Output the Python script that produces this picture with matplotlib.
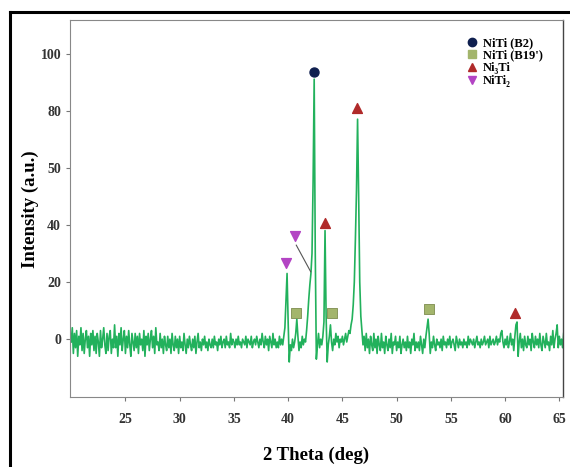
import numpy as np
import matplotlib
matplotlib.use("Agg")
import matplotlib.pyplot as plt
from matplotlib.lines import Line2D

# XRD pattern, sampled every 0.1 deg from 20.0 to 65.4 (one row per degree)
two_theta = np.round(np.arange(200, 655) / 10, 1)
intensity = [
    -1, 4, -5, 2, -3, 3, -6, 1, -2, 4,        # 20
    -4, 2, -5, 0, 3, -3, 1, -6, 2, -2,        # 21
    3, -4, 1, -5, 2, -1, -6, 3, -3, 0,        # 22
    4, -2, -5, 2, -4, 1, 3, -5, 0, -3,        # 23
    5, -3, 1, -6, 2, -2, 4, -4, 0, 3,         # 24
    -5, 1, -3, 3, -2, -6, 2, -1, -4, 2,       # 25
    -3, 1, -5, 2, -2, 0, -4, 3, -6, 1,        # 26
    -2, 2, -4, 0, 3, -3, 1, -5, 4, -2,        # 27
    -1, -4, 2, -3, 0, -5, 1, -2, -4, 1,       # 28
    -3, 0, -5, 2, -2, -4, 1, -3, 0, -5,       # 29
    1, -3, -1, -4, 2, -2, -5, 0, -3, 1,       # 30
    -2, -4, 0, -3, 1, -5, -1, 2, -3, -1,      # 31
    -4, 0, -2, 1, -3, -1, -4, 0, -2, -3,      # 32
    0, -3, 1, -2, -1, -4, 0, -2, 1, -3,       # 33
    -1, 0, -3, 1, -2, -1, -3, 2, -2, 0,       # 34
    -1, -3, 0, -2, 1, -2, -1, -3, 0, -1,      # 35
    -2, 1, -3, 0, -1, -2, 1, -3, -1, 0,       # 36
    -2, 1, -1, -3, 0, -2, 2, -1, -3, 1,       # 37
    -2, 0, -4, 1, -1, -3, 2, -2, 0, -3,       # 38
    -1, -3, 1, -2, 0, -2, 1, 4, 14, 23,       # 39
    6, -8, -2, -4, 0, -3, -1, 2, 7, 1,        # 40
    -4, -1, -3, 1, -2, 0, -1, 3, 8, 14,       # 41
    19, 23, 30, 55, 91, 30, -7, -2, 2, -3,    # 42
    0, -2, 1, 6, 38, 8, -8, -2, 1, 5,         # 43
    -1, -4, 0, -2, 2, -1, 1, -3, 0, -1,       # 44
    1, -2, 0, 2, -1, 1, 3, 2, 5, 7,           # 45
    12, 20, 35, 52, 77, 50, 20, 8, 3, -2,     # 46
    1, -4, 2, -3, 0, -5, 1, -2, -4, 2,        # 47
    -3, 0, -5, 1, -2, -4, 2, -3, -1, -5,      # 48
    1, -2, -4, 0, -3, 2, -5, -1, -2, 1,       # 49
    -4, -1, -3, 1, -5, -2, 0, -3, -1, -4,     # 50
    1, -3, -1, -5, 0, -2, 2, -4, -1, -3,      # 51
    -1, -4, 1, -2, -5, 0, -3, 1, 4, 7,        # 52
    2, -5, -1, -3, 1, -2, -4, 0, -2, -1,      # 53
    -3, 0, -4, 1, -2, -1, -3, 0, -2, 1,       # 54
    -3, -1, 0, -2, -4, 1, -1, -3, 0, -2,      # 55
    -1, -3, 0, -2, -1, -3, 1, -2, 0, -1,      # 56
    -2, 0, -3, -1, 1, -2, -1, -3, 0, -2,      # 57
    -1, 1, -2, -1, 0, -3, 1, -2, -1, 0,       # 58
    -2, -1, 1, -2, 0, -1, 2, 3, -1, -3,       # 59
    0, -2, 1, -3, -1, 2, -2, 0, -4, 1,        # 60
    5, 6, -6, -1, 2, -3, 0, -4, 1, -2,        # 61
    -3, 1, -2, 0, -4, 2, -1, -3, 1, -2,       # 62
    0, -3, 2, -2, -4, 1, -1, -3, 2, -2,       # 63
    -1, -4, 1, -2, 3, -3, 0, 2, 5, -3,        # 64
    1, -2, 0, -3, 2,                          # 65
]

# phase markers
b2_x, b2_y = [42.42], [93.6]
b19_x, b19_y = [40.77, 44.03, 52.98], [9.3, 9.3, 10.7]
ni3ti_x, ni3ti_y = [43.36, 46.38, 60.95], [40.7, 80.8, 9.3]
niti2_x, niti2_y = [39.84, 40.67], [26.7, 36.1]

y_ticks = [0, 20, 40, 60, 80, 100]
y_tick_labels = ["0", "20", "40", "50", "80", "100"]
x_ticks = [25, 30, 35, 40, 45, 50, 55, 60, 65]

serif = ["Liberation Serif", "DejaVu Serif"]
plt.rcParams["font.family"] = serif

fig = plt.figure(figsize=(5.7, 4.67), dpi=100)
ax = fig.add_axes([0.123, 0.149, 0.864, 0.808])

ax.plot(two_theta, intensity, color="#22b15c", lw=1.2)

ax.scatter(b2_x, b2_y, marker="o", s=42, color="#0f1f4f", zorder=3)
ax.scatter(b19_x, b19_y, marker="s", s=42, color="#a3b56c", edgecolor="#7d8c4e", lw=0.6, zorder=3)
ax.scatter(ni3ti_x, ni3ti_y, marker="^", s=50, color="#b02a2a", zorder=3)
ax.scatter(niti2_x, niti2_y, marker="v", s=50, color="#b344c4", zorder=3)

# leader line from the second NiTi2 marker to the shoulder
ax.plot([40.75, 42.08], [32.9, 23.6], color="#555555", lw=0.8)

ax.set_xlim(19.9, 65.3)
ax.set_ylim(-20.4, 111.7)
ax.set_xticks(x_ticks)
ax.set_yticks(y_ticks)
ax.set_yticklabels(y_tick_labels)
ax.tick_params(axis="both", colors="#777777", labelcolor="#333333", length=3, width=0.8,
               labelsize=10)
ax.tick_params(axis="x", pad=8)
for lab in ax.get_xticklabels() + ax.get_yticklabels():
    lab.set_fontweight("bold")
for side in ["left", "bottom", "top"]:
    ax.spines[side].set_color("#888888")
    ax.spines[side].set_linewidth(0.8)
ax.spines["right"].set_color("#444444")
ax.spines["right"].set_linewidth(1.0)

ax.set_xlabel("2 Theta (deg)", fontsize=13.5, fontweight="bold", labelpad=15)
ax.set_ylabel("Intensity (a.u.)", fontsize=13.5, fontweight="bold", labelpad=1)

handles = [
    Line2D([], [], ls="", marker="o", ms=6, color="#0f1f4f"),
    Line2D([], [], ls="", marker="s", ms=6, color="#a3b56c"),
    Line2D([], [], ls="", marker="^", ms=6, color="#b02a2a"),
    Line2D([], [], ls="", marker="v", ms=6, color="#b344c4"),
]
labels = ["NiTi (B2)", "NiTi (B19')", "Ni\u2083Ti", "NiTi\u2082"]
ax.legend(handles, labels, loc="upper right", bbox_to_anchor=(0.975, 0.975), frameon=False,
          prop={"family": serif, "weight": "bold", "size": 9}, labelspacing=0.05,
          handlelength=1.0, handletextpad=0.4, borderaxespad=0.2)

# outer frame of the original figure
fig.add_artist(Line2D([10 / 570, 10 / 570], [0, 1 - 12 / 467], color="black", lw=2.2,
                      transform=fig.transFigure))
fig.add_artist(Line2D([10 / 570, 1], [1 - 12 / 467, 1 - 12 / 467], color="black", lw=2.2,
                      transform=fig.transFigure))

fig.savefig("out.png", dpi=100)
